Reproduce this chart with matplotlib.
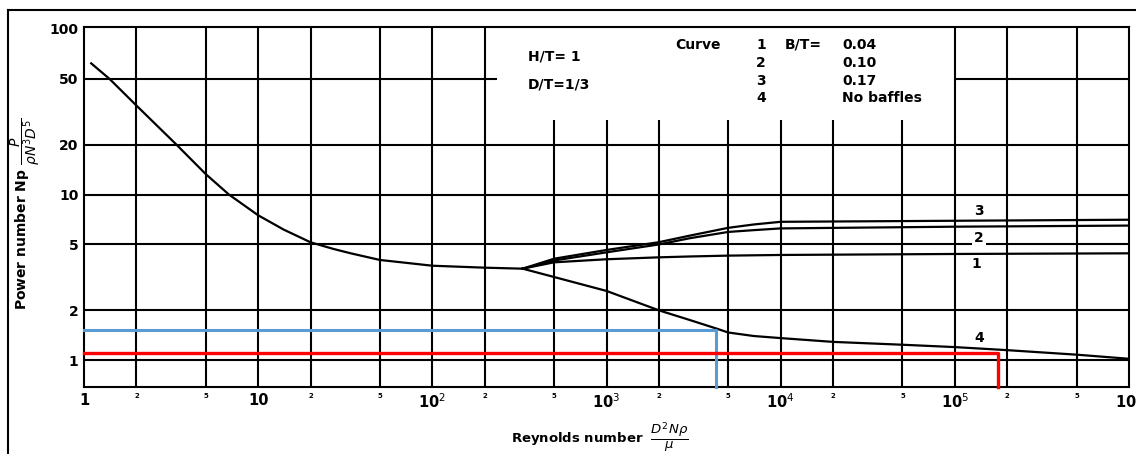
import matplotlib
matplotlib.use('Agg')
import matplotlib.pyplot as plt
from matplotlib.lines import Line2D

# Laminar / transition part shared by all curves
re_main = [1.1, 1.4, 2, 3.4, 5, 6.8, 10, 14, 20, 27, 34, 50, 100, 200, 330]
np_main = [62, 50, 34.5, 20, 13.3, 10, 7.5, 6.15, 5.15, 4.7, 4.42, 4.03, 3.72, 3.62, 3.57]

# Baffled curves 1-3 and unbaffled curve 4 (start at the branch point)
re_baf = [330, 500, 1000, 2000, 3000, 5000, 7000, 1e4, 1e5, 1e6]
np_1 = [3.57, 3.9, 4.07, 4.18, 4.23, 4.28, 4.3, 4.32, 4.38, 4.42]
np_2 = [3.57, 4.0, 4.48, 5.0, 5.45, 5.95, 6.1, 6.25, 6.4, 6.5]
np_3 = [3.57, 4.1, 4.63, 5.16, 5.65, 6.3, 6.6, 6.85, 6.95, 7.05]

re_4 = [330, 500, 1000, 2000, 3000, 4300, 5000, 7000, 1e4, 2e4, 5e4, 1e5, 2e5, 5e5, 1e6]
np_4 = [3.57, 3.18, 2.62, 2.0, 1.75, 1.55, 1.47, 1.40, 1.36, 1.29, 1.24, 1.20, 1.15, 1.08, 1.02]

# Reading lines drawn on the chart
blue_re, blue_np = 4270, 1.53
red_re, red_np = 1.78e5, 1.11

x_major = [1, 10, 1e2, 1e3, 1e4, 1e5, 1e6]
x_major_labels = ['1', '10', '10$^2$', '10$^3$', '10$^4$', '10$^5$', '10$^6$']
x_minor = [2, 5, 20, 50, 200, 500, 2e3, 5e3, 2e4, 5e4, 2e5, 5e5]
x_minor_labels = ['2', '5'] * 6
y_ticks = [1, 2, 5, 10, 20, 50, 100]

legend_curves = ['1', '2', '3', '4']
legend_bt = ['0.04', '0.10', '0.17', 'No baffles']

plt.rcParams['font.family'] = ['DejaVu Sans']

fig = plt.figure(figsize=(11.36, 4.54), dpi=100)
ax = fig.add_axes([84 / 1136, 1 - 387 / 454, 1045 / 1136, 360 / 454])
ax.set_xscale('log')
ax.set_yscale('log')
ax.set_xlim(1, 1e6)
ax.set_ylim(0.689, 102.8)

lw = 1.5
gk = dict(color='black', lw=lw, zorder=1)
# vertical grid: full height, and cut short under the text block
ax.vlines([2, 5, 10, 20, 50, 100, 200, 1e5, 2e5, 5e5], 0.689, 102.8, **gk)
ax.vlines([500, 1e3, 2e3, 5e3, 1e4, 2e4, 5e4], 0.689, 28.4, **gk)
# horizontal grid
ax.hlines([1, 2, 5, 10, 20], 1, 1e6, **gk)
ax.hlines(50, 1, 234, **gk)
ax.hlines(50, 1e5, 1e6, **gk)

ck = dict(color='black', lw=1.6, zorder=3)
ax.plot(re_main, np_main, **ck)
ax.plot(re_baf, np_1, **ck)
ax.plot(re_baf, np_2, **ck)
ax.plot(re_baf, np_3, **ck)
ax.plot(re_4, np_4, **ck)

ax.plot([1, blue_re, blue_re], [blue_np, blue_np, 0.689], color='#5b9bd5', lw=2.2, zorder=4, clip_on=False)
ax.plot([1, red_re, red_re], [red_np, red_np, 0.689], color='red', lw=2.4, zorder=5, clip_on=False)

for s in ax.spines.values():
    s.set_linewidth(lw)

ax.set_xticks(x_major)
ax.set_xticklabels(x_major_labels, fontsize=10.5, fontweight='bold')
ax.set_xticks(x_minor, minor=True)
ax.set_xticklabels(x_minor_labels, minor=True, fontsize=5, fontweight='bold')
ax.tick_params(axis='x', which='major', length=0, pad=4)
ax.tick_params(axis='x', which='minor', length=0, pad=4)
ax.set_yticks(y_ticks)
ax.set_yticklabels([str(v) for v in y_ticks], fontsize=10, fontweight='bold')
ax.yaxis.set_minor_locator(plt.NullLocator())
ax.tick_params(axis='y', length=0, pad=4)

# curve numbers
ax.text(1.38e5, 8.0, '3', fontsize=10, fontweight='bold', ha='center', va='center')
ax.text(1.38e5, 5.5, '2', fontsize=10, fontweight='bold', ha='center', va='center',
        bbox=dict(facecolor='white', edgecolor='none', pad=1.5), zorder=2)
ax.text(1.32e5, 3.8, '1', fontsize=10, fontweight='bold', ha='center', va='center')
ax.text(1.38e5, 1.37, '4', fontsize=10, fontweight='bold', ha='center', va='center')

# text block at the top
tk = dict(fontsize=10, fontweight='bold', va='center', transform=fig.transFigure)
fig.text(528 / 1136, 1 - 57 / 454, 'H/T= 1', **tk)
fig.text(528 / 1136, 1 - 84 / 454, 'D/T=1/3', **tk)
fig.text(675 / 1136, 1 - 45 / 454, 'Curve', **tk)
fig.text(785 / 1136, 1 - 45 / 454, 'B/T=', **tk)
for i, (c, b) in enumerate(zip(legend_curves, legend_bt)):
    yy = 1 - (45 + 17.8 * i) / 454
    fig.text(761 / 1136, yy, c, ha='center', **tk)
    fig.text(842 / 1136, yy, b, **tk)

fig.text(25 / 1136, 1 - 214 / 454, r'Power number Np $\dfrac{P}{\rho N^3 D^5}$',
         rotation=90, ha='center', va='center', fontsize=10, fontweight='bold')
fig.text(600 / 1136, 1 - 437 / 454, r'Reynolds number  $\dfrac{D^2 N\rho}{\mu}$',
         ha='center', va='center', fontsize=9.5, fontweight='bold')

# outer frame of the scanned figure
fig.add_artist(Line2D([8 / 1136, 8 / 1136], [0, 1 - 10 / 454], color='black', lw=1.5))
fig.add_artist(Line2D([8 / 1136, 1], [1 - 10 / 454, 1 - 10 / 454], color='black', lw=1.5))

fig.savefig('out.png', dpi=100)
